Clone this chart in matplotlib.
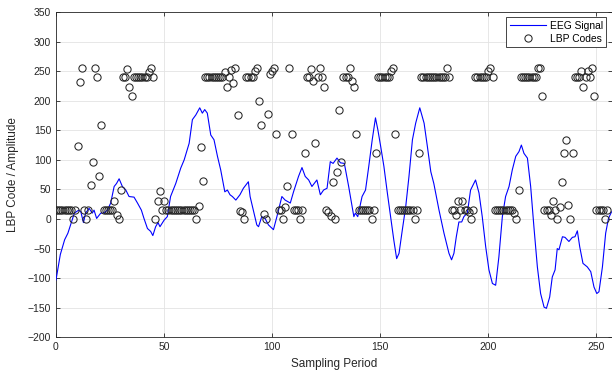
import matplotlib
matplotlib.use("Agg")
import matplotlib.pyplot as plt

# EEG signal: (sample, amplitude)
eeg_t = [0, 2, 4, 5.5, 7, 8.5, 10.5, 11.5, 12.7, 13.7, 15.3, 16.8, 17.6, 18.8, 20.7, 22, 23.8, 25.3,
         26.9, 28, 29.2, 30.7, 32.3, 33.8, 36.1, 37.7, 39.5, 40.7, 42.3, 43.8, 44.8, 46.1, 47.2, 48.1,
         50, 51.5, 53, 55.4, 57.7, 59.3, 61.6, 63.1, 64.7, 66.5, 67.7, 68.8, 70, 71.6, 73.1, 74.7,
         76.2, 78.1, 79.3, 80.5, 81.6, 83.2, 85.1, 86.7, 89, 89.8, 91.3, 92.9, 93.7, 95.2, 96.7, 98.3,
         100.6, 102.2, 104.5, 106, 108.4, 109.9, 112.2, 113.8, 115.3, 116.9, 118.4, 120.7, 122.3, 123.8,
         125.4, 126.9, 128.2, 130, 131.6, 133.4, 135.4, 137.8, 138.5, 139.6, 141.6, 143.2, 144.7, 146.3,
         147.8, 148.9, 150.2, 151.7, 153.3, 154.8, 156.3, 157.6, 158.7, 160.2, 161.8, 163.3, 164.9,
         166.4, 168.3, 170.3, 171.8, 173.4, 174.8, 177.2, 179.5, 181.8, 183, 184.1, 185.2, 186.4, 187.7,
         188.7, 190.3, 191.8, 194.1, 195.7, 197.2, 198.8, 200.3, 201.9, 203.4, 204.9, 206.5, 208, 209.6,
         211.1, 212.7, 214.2, 215.3, 216.5, 218.1, 219.6, 221.1, 222.7, 224.2, 225.8, 226.9, 228.4,
         229.6, 230.9, 231.9, 232.7, 234.3, 235.5, 237.3, 238.9, 240.1, 241.2, 242.3, 243.8, 245.8,
         247.4, 248.9, 250.2, 251.2, 252.8, 254.3, 255.6, 257]
eeg_v = [-103, -60, -35, -24, -7, 10, 15, 12, -6, 10, 18, 10, 15, 1, 10, 10, 15, 27,
         55, 60, 68, 55, 49, 38, 37, 27, 15, 1, -16, -21, -28, -13, -6, -13,
         -2, 4, 38, 60, 86, 100, 128, 168, 176, 188, 179, 185, 179, 142, 134, 106,
         83, 46, 49, 41, 38, 32, 41, 52, 63, 38, 15, -10, -13, 4, 1, -10,
         -18, 4, 38, 32, 27, 46, 72, 87, 72, 66, 55, 66, 41, 49,
         52, 97, 94, 103, 95, 94, 55, 4, 10, 4, 38, 49, 89, 134,
         171, 151, 123, 89, 44, 4, -36, -67, -58, -19, 21, 72, 134,
         162, 188, 162, 123, 80, 60, 15, -24, -58, -69, -58, -30, -5, -5,
         4, 10, 49, 66, 44, 4, -47, -86, -109, -112, -64, 4, 38, 55,
         83, 106, 114, 125, 111, 103, 55, -13, -81, -126, -149, -151, -132,
         -98, -86, -50, -52, -30, -31, -38, -31, -30, -20, -47, -75, -81,
         -89, -115, -126, -123, -81, -24, 1, 12]

# LBP codes, one per sample 0..255
lbp_codes = [15, 15, 15, 15, 15, 15, 15, 15, 0, 15,
             124, 231, 255, 15, 0, 15, 58, 96, 255, 240,
             72, 159, 15, 15, 15, 15, 15, 31, 7, 0,
             49, 240, 240, 254, 224, 208, 240, 240, 240, 240,
             240, 240, 240, 248, 255, 240, 0, 31, 48, 15,
             31, 15, 15, 15, 15, 15, 15, 15, 15, 15,
             15, 15, 15, 15, 15, 0, 22, 121, 65, 240,
             240, 240, 240, 240, 240, 240, 240, 240, 248, 224,
             240, 252, 230, 255, 176, 14, 12, 0, 240, 240,
             240, 240, 250, 255, 200, 159, 8, 0, 177, 246,
             250, 255, 143, 15, 15, 0, 20, 55, 255, 143,
             15, 15, 15, 0, 15, 112, 240, 240, 254, 233,
             128, 240, 255, 240, 224, 15, 12, 5, 63, 0,
             80, 185, 96, 240, 240, 240, 255, 233, 224, 143,
             15, 15, 15, 15, 15, 15, 0, 15, 112, 240,
             240, 240, 240, 240, 240, 250, 255, 143, 15, 15,
             15, 15, 15, 15, 15, 15, 0, 15, 112, 240,
             240, 240, 240, 240, 240, 240, 240, 240, 240, 240,
             240, 255, 240, 15, 15, 7, 31, 15, 31, 15,
             15, 12, 0, 15, 240, 240, 240, 240, 240, 240,
             250, 255, 240, 15, 15, 15, 15, 15, 15, 15,
             15, 15, 10, 0, 49, 240, 240, 240, 240, 240,
             240, 240, 240, 255, 255, 208, 15, 15, 15, 7,
             31, 15, 0, 20, 63, 112, 134, 24, 0, 112,
             240, 240, 240, 251, 224, 240, 250, 240, 255, 208,
             15, 15, 15, 15, 0, 15]
lbp_t = list(range(len(lbp_codes)))

x_ticks = [0, 50, 100, 150, 200, 250]
y_ticks = list(range(-200, 351, 50))

plt.rcParams['font.family'] = ['Liberation Sans', 'DejaVu Sans']

fig = plt.figure(figsize=(6.12, 3.74), dpi=100)
ax = fig.add_axes([56/612, 1 - 337.3/374, 555.5/612, (337.3 - 12)/374])

ax.plot(eeg_t, eeg_v, color=(0, 0, 1), lw=0.8, label='EEG Signal', zorder=3)
ax.plot(lbp_t, lbp_codes, linestyle='none', marker='o', markersize=5.2,
        markerfacecolor='none', markeredgecolor='#262626', markeredgewidth=0.75,
        label='LBP Codes', zorder=4)

ax.set_xlim(0, 257)
ax.set_ylim(-200, 350)
ax.set_xticks(x_ticks)
ax.set_yticks(y_ticks)
ax.grid(True, color='#e3e3e3', lw=0.6)
ax.set_axisbelow(True)
ax.tick_params(direction='in', length=3, width=0.6, colors='#262626', labelsize=7.5,
               top=True, right=True)
for s in ax.spines.values():
    s.set_color('#262626')
    s.set_linewidth(0.6)

ax.set_xlabel('Sampling Period', fontsize=8.5, color='#262626', labelpad=4)
ax.set_ylabel('LBP Code / Amplitude', fontsize=8.5, color='#262626', labelpad=6)

leg = ax.legend(loc='upper right', fontsize=7.4, frameon=True, fancybox=False,
                edgecolor='#262626', framealpha=1, borderpad=0.35, labelspacing=0.3,
                handlelength=3.5, handletextpad=0.4, borderaxespad=0.5)
leg.get_frame().set_linewidth(0.6)

fig.savefig('out.png', dpi=100)
